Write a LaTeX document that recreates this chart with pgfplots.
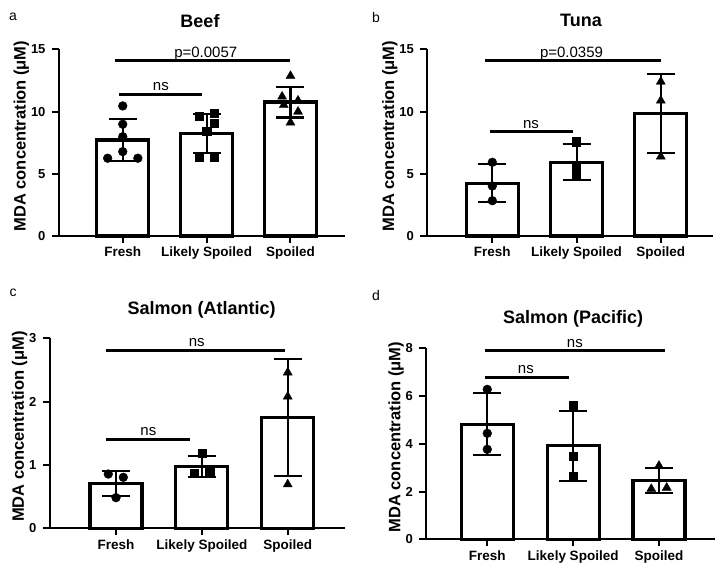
\documentclass[border=0pt]{standalone}
\usepackage{fontspec}
\setmainfont{Liberation Sans}
\usepackage{pgfplots}
\pgfplotsset{compat=1.18}

\pgfplotsset{
  panel/.style={
    scale only axis,
    anchor=south west,
    axis lines=left,
    axis line style={-, line width=2.2pt},
    every outer x axis line/.append style={line width=2.2pt},
    every outer y axis line/.append style={line width=2.2pt},
    tick align=outside,
    major tick length=7pt,
    tick style={line width=2pt, black},
    xtick={0,1,2},
    xticklabels={Fresh, Likely Spoiled, Spoiled},
    xticklabel style={font=\bfseries\fontsize{13.5}{14}\selectfont, yshift=-0.5pt},
    yticklabel style={font=\bfseries\fontsize{13}{14}\selectfont},
    yticklabel shift=3pt,
    /pgf/number format/assume math mode=true,
    ymin=0,
    ylabel={MDA concentration (μM)},
    ylabel style={font=\bfseries\fontsize{16.5}{17}\selectfont, at={(ticklabel cs:0.535)}},
    ylabel shift=-5pt,
    title style={font=\bfseries\fontsize{18}{18}\selectfont, anchor=center},
    clip=false,
  },
  bars/.style={ybar, bar width=52pt, draw=black, fill=white, line width=3.2pt,
    error bars/.cd, y dir=both, y explicit,
    error bar style={line width=2.1pt, black},
    error mark options={rotate=90, line width=2.1pt, mark size=14pt, black}},
  dots/.style={only marks, black, mark=*, mark size=4.4pt, mark options={fill=black}},
  sqs/.style={only marks, black, mark=square*, mark size=4.1pt, mark options={fill=black}},
  tris/.style={only marks, black, mark=triangle*, mark size=5.2pt, mark options={fill=black}},
  sig/.style={line width=3pt, black, no marks},
}
\tikzset{sigtext/.style={anchor=base, font=\fontsize{15}{15}\selectfont, yshift=3.5pt},
  letter/.style={font=\fontsize{14}{14}\selectfont, anchor=center}}

\begin{document}
\begin{tikzpicture}
\useasboundingbox (0pt,0pt) rectangle (726pt,-573pt);

% a: Beef
\begin{axis}[panel, at={(59pt,-236pt)}, width=286pt, height=186.7pt,
    xmin=-0.76, xmax=2.65, ymax=15, ytick={0,5,10,15},
    title={Beef}, title style={at={(axis description cs:0.493,1)}, yshift=22.6pt}]
\addplot[bars] coordinates {(0,7.72) +- (0,1.68) (1,8.22) +- (0,1.58) (2,10.76) +- (0,1.24)};
\addplot[dots] coordinates {(0,10.45) (0,8.98) (0,7.98) (0,6.78) (-0.18,6.25) (0.18,6.25)};
\addplot[sqs] coordinates {(0.91,9.62) (1.09,9.86) (1.09,9.06) (1,8.39) (0.91,6.33) (1.09,6.33)};
\addplot[tris] coordinates {(2,12.86) (1.9,11.2) (2.09,10.88) (1.92,10.53) (2.09,9.99) (2,9.11)};
\addplot[sig] coordinates {(-0.09,14.07) (1.99,14.07)};
\addplot[sig] coordinates {(-0.04,11.39) (0.95,11.39)};
\node[sigtext] at (axis cs:0.99,14.07) {p=0.0057};
\node[sigtext] at (axis cs:0.455,11.39) {ns};
\end{axis}

% b: Tuna
\begin{axis}[panel, at={(427.3pt,-236pt)}, width=285.7pt, height=186.7pt,
    xmin=-0.772, xmax=2.62, ymax=15, ytick={0,5,10,15},
    title={Tuna}, title style={at={(axis description cs:0.538,1)}, yshift=22.6pt}]
\addplot[bars] coordinates {(0,4.25) +- (0,1.54) (1,5.93) +- (0,1.44) (2,9.86) +- (0,3.16)};
\addplot[dots] coordinates {(0,5.92) (0,4.02) (0,2.84)};
\addplot[sqs] coordinates {(1,7.58) (1,5.52) (1,4.82)};
\addplot[tris] coordinates {(2,12.40) (2,10.88) (2,6.38)};
\addplot[sig] coordinates {(-0.09,14.07) (2,14.07)};
\addplot[sig] coordinates {(-0.03,8.39) (0.96,8.39)};
\node[sigtext] at (axis cs:0.94,14.07) {p=0.0359};
\node[sigtext] at (axis cs:0.46,8.39) {ns};
\end{axis}

% c: Salmon (Atlantic)
\begin{axis}[panel, at={(50pt,-528.3pt)}, width=295pt, height=190pt,
    xmin=-0.769, xmax=2.667, ymax=3, ytick={0,1,2,3},
    title={Salmon (Atlantic)}, title style={at={(axis description cs:0.514,1)}, yshift=22.3pt}]
\addplot[bars] coordinates {(0,0.71) +- (0,0.195) (1,0.972) +- (0,0.168) (2,1.753) +- (0,0.927)};
\addplot[dots] coordinates {(-0.09,0.857) (0.085,0.805) (0,0.484)};
\addplot[sqs] coordinates {(1,1.18) (0.91,0.868) (1.09,0.878)};
\addplot[tris] coordinates {(2,2.46) (2,2.08) (2,0.694)};
\addplot[sig] coordinates {(-0.12,2.815) (1.97,2.815)};
\addplot[sig] coordinates {(-0.12,1.405) (0.86,1.405)};
\node[sigtext] at (axis cs:0.94,2.815) {ns};
\node[sigtext] at (axis cs:0.377,1.405) {ns};
\end{axis}

% d: Salmon (Pacific)
\begin{axis}[panel, at={(426.3pt,-539.3pt)}, width=288.4pt, height=191pt,
    xmin=-0.71, xmax=2.649, ymax=8, ytick={0,2,4,6,8},
    title={Salmon (Pacific)}, title style={at={(axis description cs:0.509,1)}, yshift=23pt}]
\addplot[bars] coordinates {(0,4.82) +- (0,1.29) (1,3.92) +- (0,1.47) (2,2.45) +- (0,0.52)};
\addplot[dots] coordinates {(0,6.28) (0,4.44) (0,3.77)};
\addplot[sqs] coordinates {(1,5.60) (1,3.49) (1,2.66)};
\addplot[tris] coordinates {(2,3.08) (1.91,2.11) (2.09,2.16)};
\addplot[sig] coordinates {(-0.03,7.89) (2.07,7.89)};
\addplot[sig] coordinates {(-0.03,6.78) (0.95,6.78)};
\node[sigtext] at (axis cs:1.02,7.89) {ns};
\node[sigtext] at (axis cs:0.45,6.78) {ns};
\end{axis}

\node[letter] at (13pt,-17pt) {a};
\node[letter] at (376pt,-17pt) {b};
\node[letter] at (13pt,-293pt) {c};
\node[letter] at (376pt,-295pt) {d};
\end{tikzpicture}
\end{document}
